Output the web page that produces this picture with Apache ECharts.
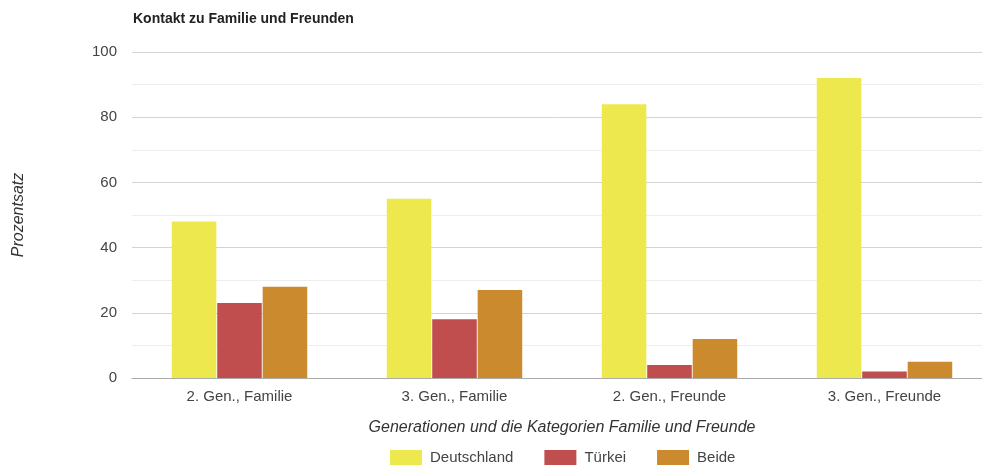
<!DOCTYPE html>
<html>
<head>
<meta charset="utf-8">
<script src="https://cdn.jsdelivr.net/npm/echarts@6/dist/echarts.min.js"></script>
<style>
  html, body { margin: 0; padding: 0; background: #fff; }
  #chart { width: 982px; height: 466px; }
</style>
</head>
<body>
<div id="chart"></div>
<script>
const categories = ['2. Gen., Familie', '3. Gen., Familie', '2. Gen., Freunde', '3. Gen., Freunde'];
const deutschland = [48, 55, 84, 92];
const tuerkei = [23, 18, 4, 2];
const beide = [28, 27, 12, 5];
const yTicks = { min: 0, max: 100, interval: 20 };

const colors = ['#ece84e', '#c04e4e', '#cc8a2e'];
const font = 'Arial, "Liberation Sans", sans-serif';

const chart = echarts.init(document.getElementById('chart'));

const option = {
  animation: false,
  color: colors,
  textStyle: { fontFamily: font },
  title: {
    text: 'Kontakt zu Familie und Freunden',
    left: 128,
    top: 7,
    textStyle: { fontSize: 14, fontWeight: 'bold', color: '#222', fontFamily: font }
  },
  // plot runs past the right edge, like the original
  grid: { left: 132, right: -10, top: 52, bottom: 88, outerBoundsMode: 'none' },
  legend: {
    bottom: 1,
    left: 390,
    padding: 0,
    itemWidth: 32,
    itemHeight: 15,
    itemGap: 31,
    icon: 'rect',
    textStyle: { fontSize: 15, color: '#444', fontFamily: font, padding: [0, 0, 0, 3] }
  },
  xAxis: {
    type: 'category',
    data: categories,
    name: 'Generationen und die Kategorien Familie und Freunde',
    nameLocation: 'middle',
    nameGap: 42,
    nameTextStyle: { fontStyle: 'italic', fontSize: 16, color: '#333' },
    axisLine: { lineStyle: { color: '#aaa' } },
    axisTick: { show: false },
    axisLabel: { fontSize: 15, color: '#444', margin: 11 }
  },
  yAxis: {
    type: 'value',
    min: yTicks.min,
    max: yTicks.max,
    interval: yTicks.interval,
    name: 'Prozentsatz',
    nameLocation: 'middle',
    nameGap: 105,
    nameTextStyle: { fontStyle: 'italic', fontSize: 16, color: '#333' },
    axisLabel: { fontSize: 15, color: '#444', margin: 15 },
    splitLine: { lineStyle: { color: '#d4d4d4' } },
    minorTick: { show: false, splitNumber: 2 },
    minorSplitLine: { show: true, lineStyle: { color: '#eeeeee' } }
  },
  series: [
    { name: 'Deutschland', type: 'bar', data: deutschland, barGap: '2%', barCategoryGap: '37%' },
    { name: 'Türkei', type: 'bar', data: tuerkei },
    { name: 'Beide', type: 'bar', data: beide }
  ]
};

chart.setOption(option);
</script>
</body>
</html>
